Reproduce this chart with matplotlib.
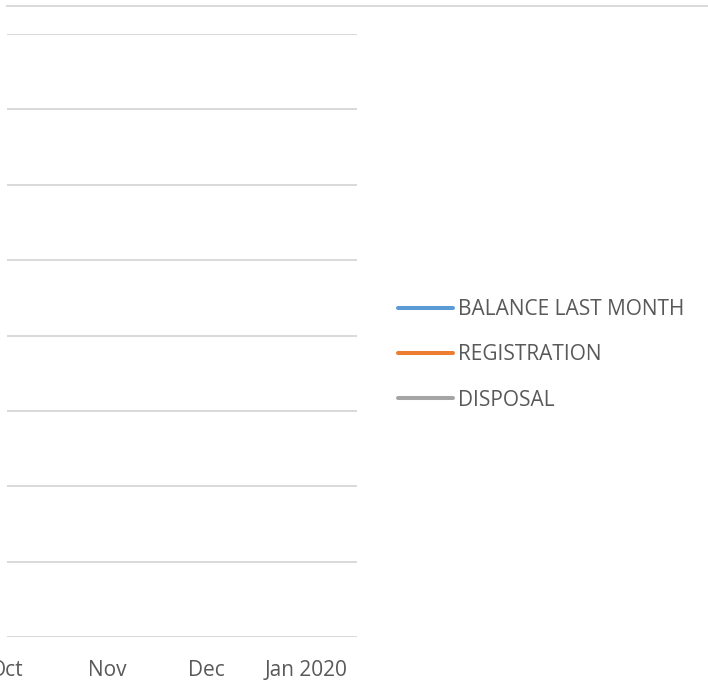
import numpy as np
import matplotlib
matplotlib.use("Agg")
import matplotlib.pyplot as plt
from matplotlib.lines import Line2D

# Data (the visible window of the chart shows no plotted values)
months = ["Oct", "Nov", "Dec", "Jan 2020"]
balance_last_month = [np.nan, np.nan, np.nan, np.nan]
registration = [np.nan, np.nan, np.nan, np.nan]
disposal = [np.nan, np.nan, np.nan, np.nan]
series_names = ["BALANCE LAST MONTH", "REGISTRATION", "DISPOSAL"]
series_colors = ["#5B9BD5", "#ED7D31", "#A5A5A5"]

plt.rcParams['font.family'] = ['Open Sans', 'DejaVu Sans']
W, H = 708, 696
fig = plt.figure(figsize=(W / 100, H / 100), dpi=100)

ax = fig.add_axes([7 / W, 59 / H, 350 / W, 603 / H])
x = np.arange(len(months))
for vals, name, col in zip([balance_last_month, registration, disposal], series_names, series_colors):
    ax.plot(x, vals, color=col, lw=2.9, solid_capstyle='round', label=name)

ax.set_xlim(6 / 101.5, 356 / 101.5)
ax.set_ylim(0, 8)
ax.set_yticks(np.arange(0, 9))
ax.yaxis.grid(True, color="#D9D9D9", lw=1.4)
ax.set_axisbelow(True)
for s in ax.spines.values():
    s.set_visible(False)
ax.tick_params(axis='y', left=False, labelleft=False)
ax.set_xticks(x)
ax.set_xticklabels(months, fontsize=15, color="#595959")
ax.tick_params(axis='x', bottom=False, pad=13)

# top border line
fig.add_artist(Line2D([7 / W, 1.0], [1 - 6 / H, 1 - 6 / H], transform=fig.transFigure,
                      color="#D9D9D9", lw=1.4))

handles = [Line2D([0], [0], color=c, lw=2.9, solid_capstyle='round') for c in series_colors]
leg = fig.legend(handles, series_names, loc='upper left', bbox_to_anchor=(398 / W, 1 - 299 / H),
                 frameon=False, fontsize=15, handlelength=2.64, handletextpad=0.24,
                 labelspacing=1.17, borderaxespad=0, borderpad=0)
for t in leg.get_texts():
    t.set_color("#595959")

fig.savefig("out.png", dpi=100, facecolor="white")
